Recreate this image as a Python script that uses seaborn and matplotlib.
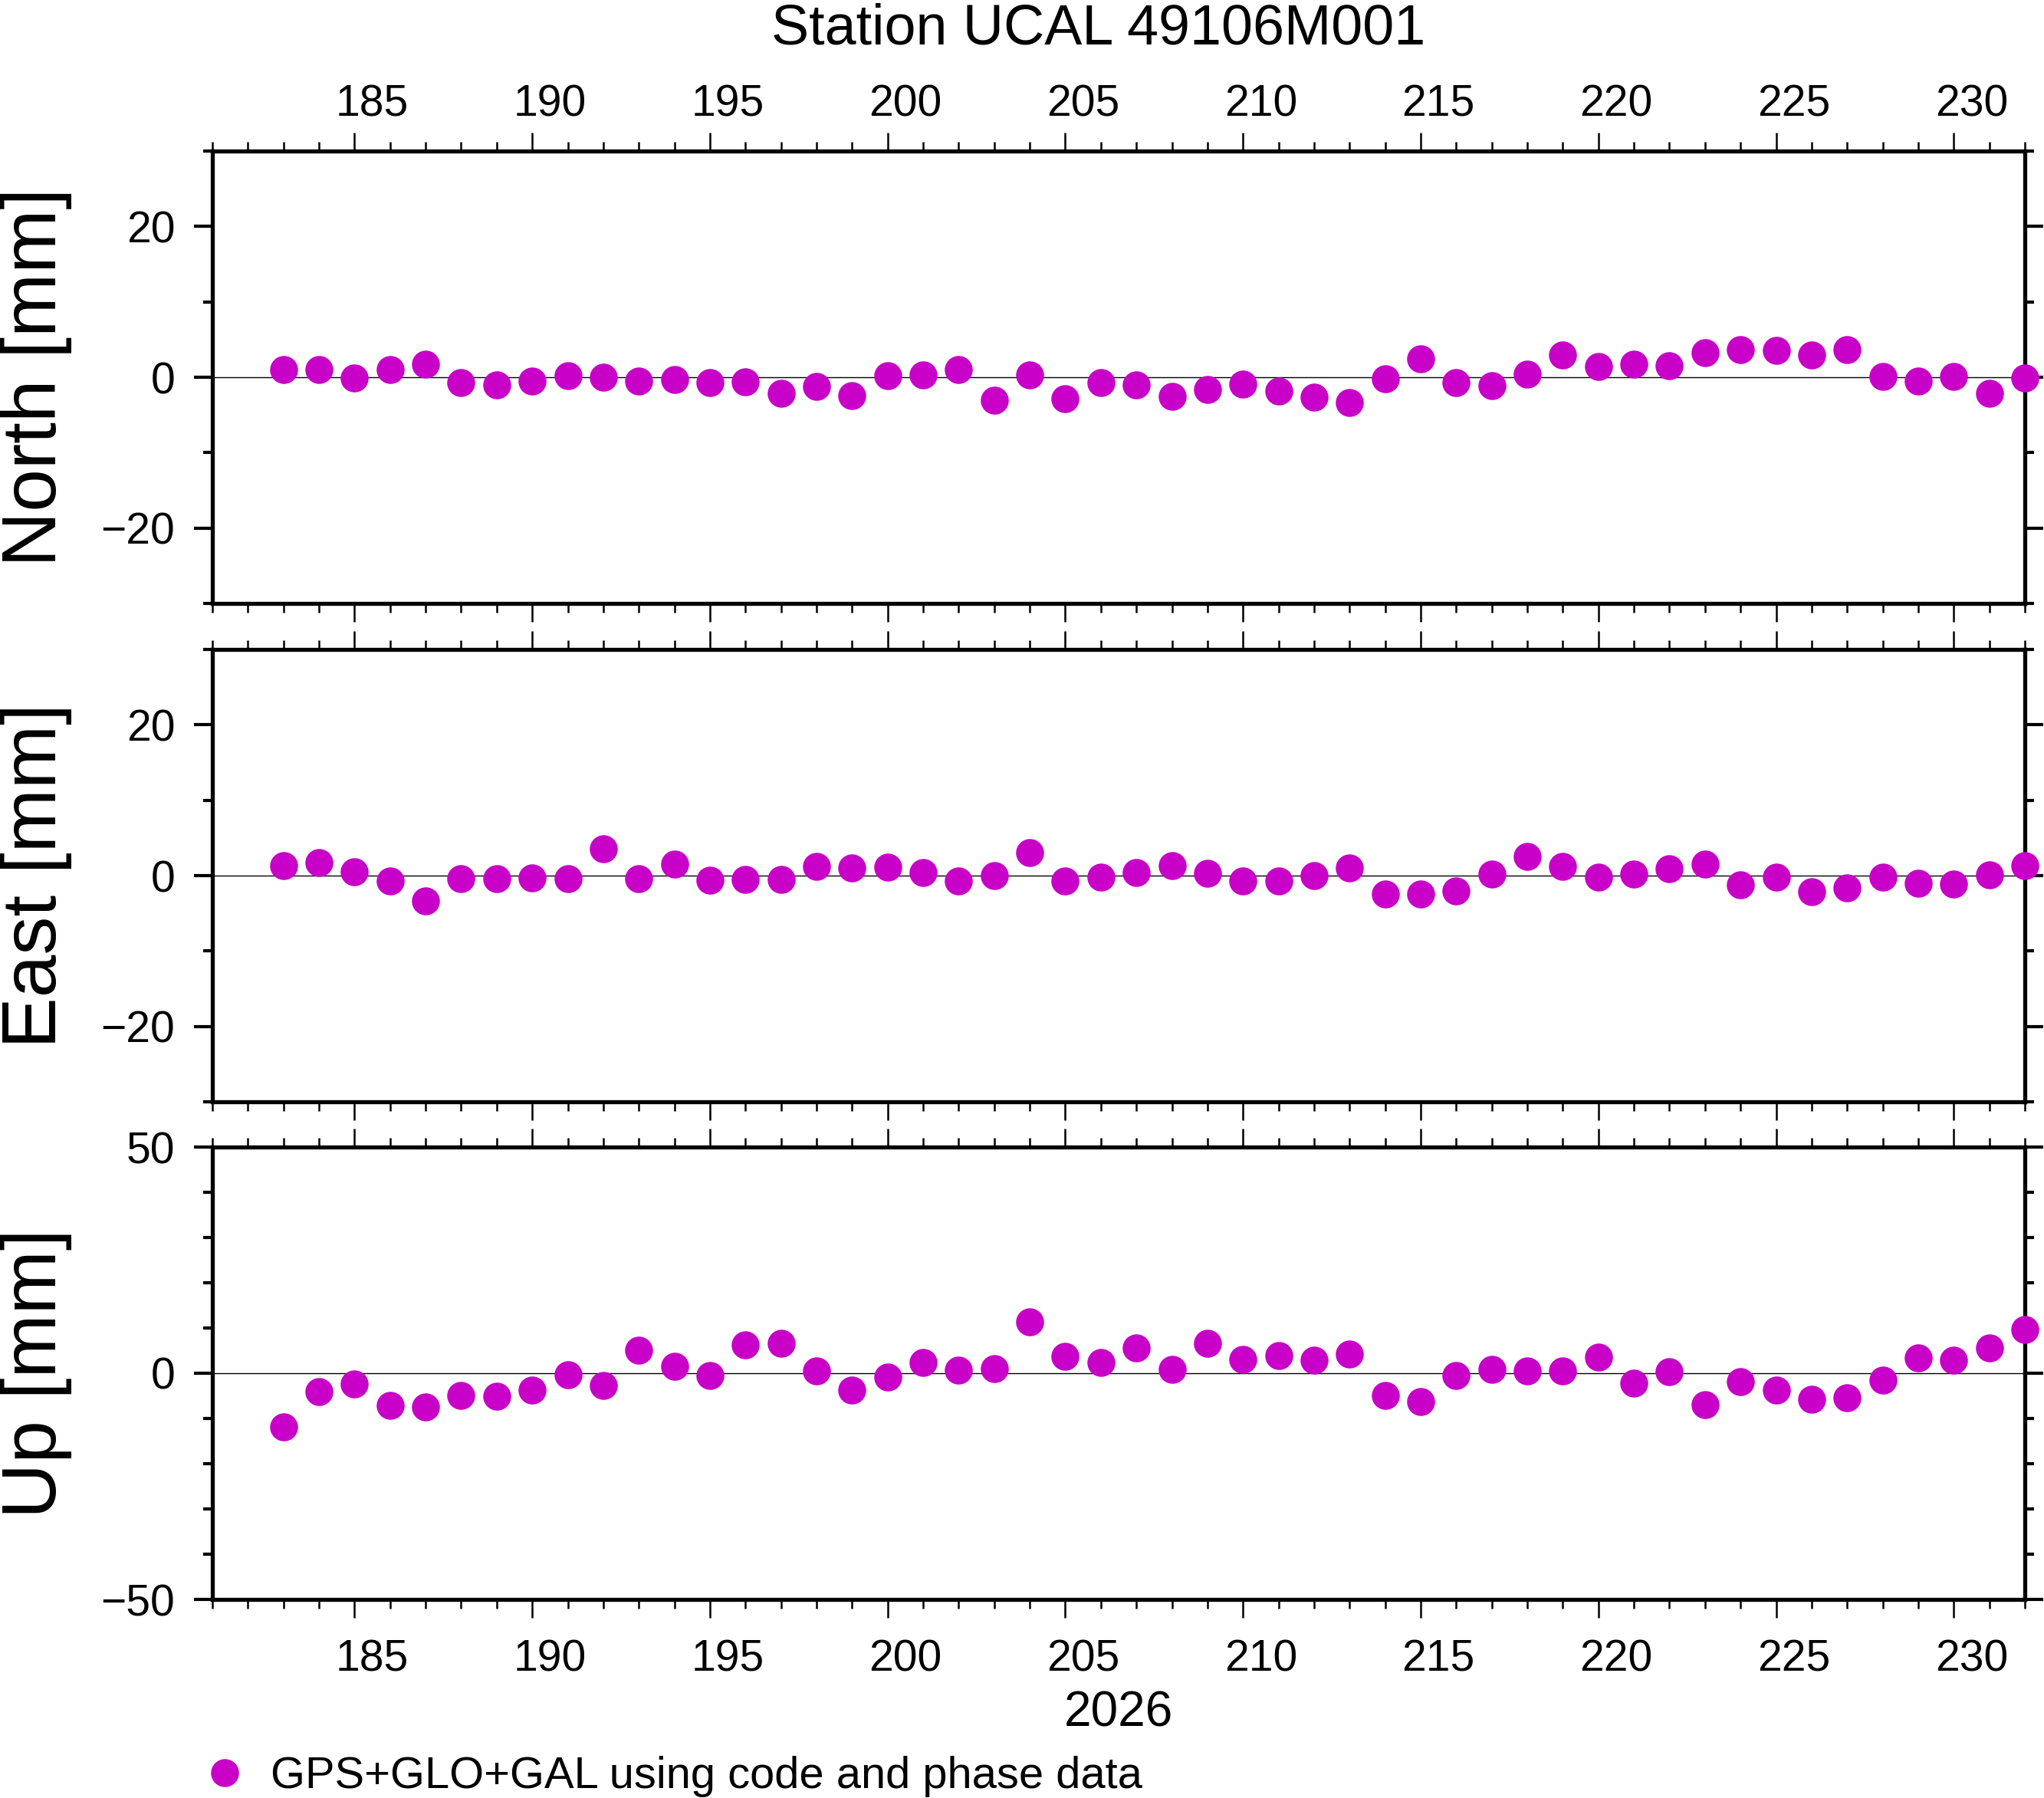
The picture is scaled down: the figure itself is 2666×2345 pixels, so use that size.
import numpy as np
import seaborn as sns
import matplotlib.pyplot as plt
from matplotlib.lines import Line2D
from matplotlib.ticker import MultipleLocator
from matplotlib.transforms import ScaledTranslation

days = list(range(183, 233))

north = [1.0, 1.05, -0.1, 1.0, 1.7, -0.7, -1.0, -0.5, 0.2, 0.05,
         -0.5, -0.3, -0.7, -0.6, -2.1, -1.2, -2.4, 0.2, 0.35, 1.05,
         -3.1, 0.35, -2.8, -0.75, -1.0, -2.5, -1.65, -0.9, -1.85, -2.65,
         -3.4, -0.2, 2.4, -0.75, -1.15, 0.45, 3.0, 1.4, 1.7, 1.5,
         3.3, 3.7, 3.6, 2.9, 3.7, 0.1, -0.55, 0.15, -2.15, -0.1]

east = [1.3, 1.7, 0.5, -0.7, -3.35, -0.4, -0.4, -0.3, -0.4, 3.55,
        -0.4, 1.5, -0.6, -0.5, -0.5, 1.2, 1.0, 1.1, 0.4, -0.7,
        0.0, 3.05, -0.7, -0.2, 0.4, 1.3, 0.3, -0.7, -0.7, 0.0,
        1.0, -2.45, -2.45, -2.0, 0.2, 2.55, 1.2, -0.2, 0.2, 0.9,
        1.5, -1.2, -0.2, -2.15, -1.6, -0.2, -1.0, -1.1, 0.1, 1.3]

up = [-11.8, -4.0, -2.3, -7.1, -7.4, -4.9, -5.1, -3.8, -0.3, -2.65,
      5.1, 1.5, -0.5, 6.2, 6.6, 0.5, -3.8, -0.8, 2.3, 0.7,
      1.0, 11.4, 3.7, 2.4, 5.65, 0.85, 6.6, 3.05, 3.95, 2.9,
      4.2, -4.9, -6.3, -0.5, 0.85, 0.5, 0.5, 3.55, -2.2, 0.35,
      -6.9, -1.85, -3.7, -5.75, -5.4, -1.5, 3.4, 2.9, 5.65, 9.65]

panels = ["North [mm]", "East [mm]", "Up [mm]"]
ylims = [(-30, 30), (-30, 30), (-50, 50)]
ymajor = [20, 20, 50]
series = [north, east, up]

title = "Station UCAL 49106M001"
year_label = "2026"
legend_label = "GPS+GLO+GAL using code and phase data"
color = "#c800c8"

sns.set_style("ticks")
plt.rcParams['font.family'] = ['Liberation Sans', 'DejaVu Sans']
plt.rcParams.update({"text.color": "black", "axes.labelcolor": "black",
                     "xtick.color": "black", "ytick.color": "black"})

W, H = 2666, 2345
fig = plt.figure(figsize=(W / 100, H / 100), dpi=100)

left = 277 / W
width = (2641 - 277) / W
tops = [197, 847, 1496]
ph = 590

axes = []
for i, top in enumerate(tops):
    ax = fig.add_axes([left, 1 - (top + ph) / H, width, ph / H])
    axes.append(ax)
    sns.scatterplot(x=days, y=series[i], ax=ax, s=690, color=color,
                    linewidth=0, legend=False, clip_on=False, zorder=4)
    ax.axhline(0, color="black", lw=1.0, zorder=1)
    ax.set_xlim(181, 232)
    ax.set_ylim(*ylims[i])
    ax.xaxis.set_major_locator(MultipleLocator(5))
    ax.xaxis.set_minor_locator(MultipleLocator(1))
    ax.yaxis.set_major_locator(MultipleLocator(ymajor[i]))
    ax.yaxis.set_minor_locator(MultipleLocator(10))
    for sp in ax.spines.values():
        sp.set_visible(True)
        sp.set_linewidth(3.8)
        sp.set_color("black")
    ax.tick_params(axis="x", which="major", direction="out", length=17,
                   width=1.8, top=True, bottom=True, labelsize=41,
                   labeltop=(i == 0), labelbottom=(i == 2),
                   labelcolor="black", color="black")
    ax.tick_params(axis="x", which="minor", direction="out", length=8.5,
                   width=1.8, top=True, bottom=True, color="black")
    ax.tick_params(axis="y", which="major", direction="out", length=17,
                   width=3, left=True, right=True, labelsize=41, pad=18,
                   labelcolor="black", color="black")
    ax.tick_params(axis="y", which="minor", direction="out", length=8.5,
                   width=3, left=True, right=True, color="black")
    ax.set_xlabel("")
    ax.set_ylabel(panels[i], fontsize=72, color="black")
    ax.yaxis.set_label_coords(-0.0774, 0.5)

axes[0].tick_params(axis="x", which="major", pad=7)
axes[2].tick_params(axis="x", which="major", pad=20)
axes[2].set_xlabel(year_label, fontsize=46, labelpad=9.5, color="black")

fig.text(1433 / W, 1 - 57 / H, title, ha="center", va="baseline",
         fontsize=53, color="black")

handle = Line2D([], [], marker="o", ls="", color=color, markersize=26.3,
                markeredgewidth=0)
fig.legend([handle], [legend_label], loc="center left",
           bbox_to_anchor=(264.5 / W, 1 - 2317 / H), frameon=False,
           fontsize=41.7, handlelength=1.0, handletextpad=0.52,
           borderpad=0, borderaxespad=0)

# day annotations sit in the middle of each day interval
fig.canvas.draw()
shift = ScaledTranslation(23.2 / 100, 0, fig.dpi_scale_trans)
for ax in (axes[0], axes[2]):
    for tick in ax.xaxis.get_major_ticks():
        tick.label1.set_transform(tick.label1.get_transform() + shift)
        tick.label2.set_transform(tick.label2.get_transform() + shift)

fig.savefig("out.png", dpi=100)
